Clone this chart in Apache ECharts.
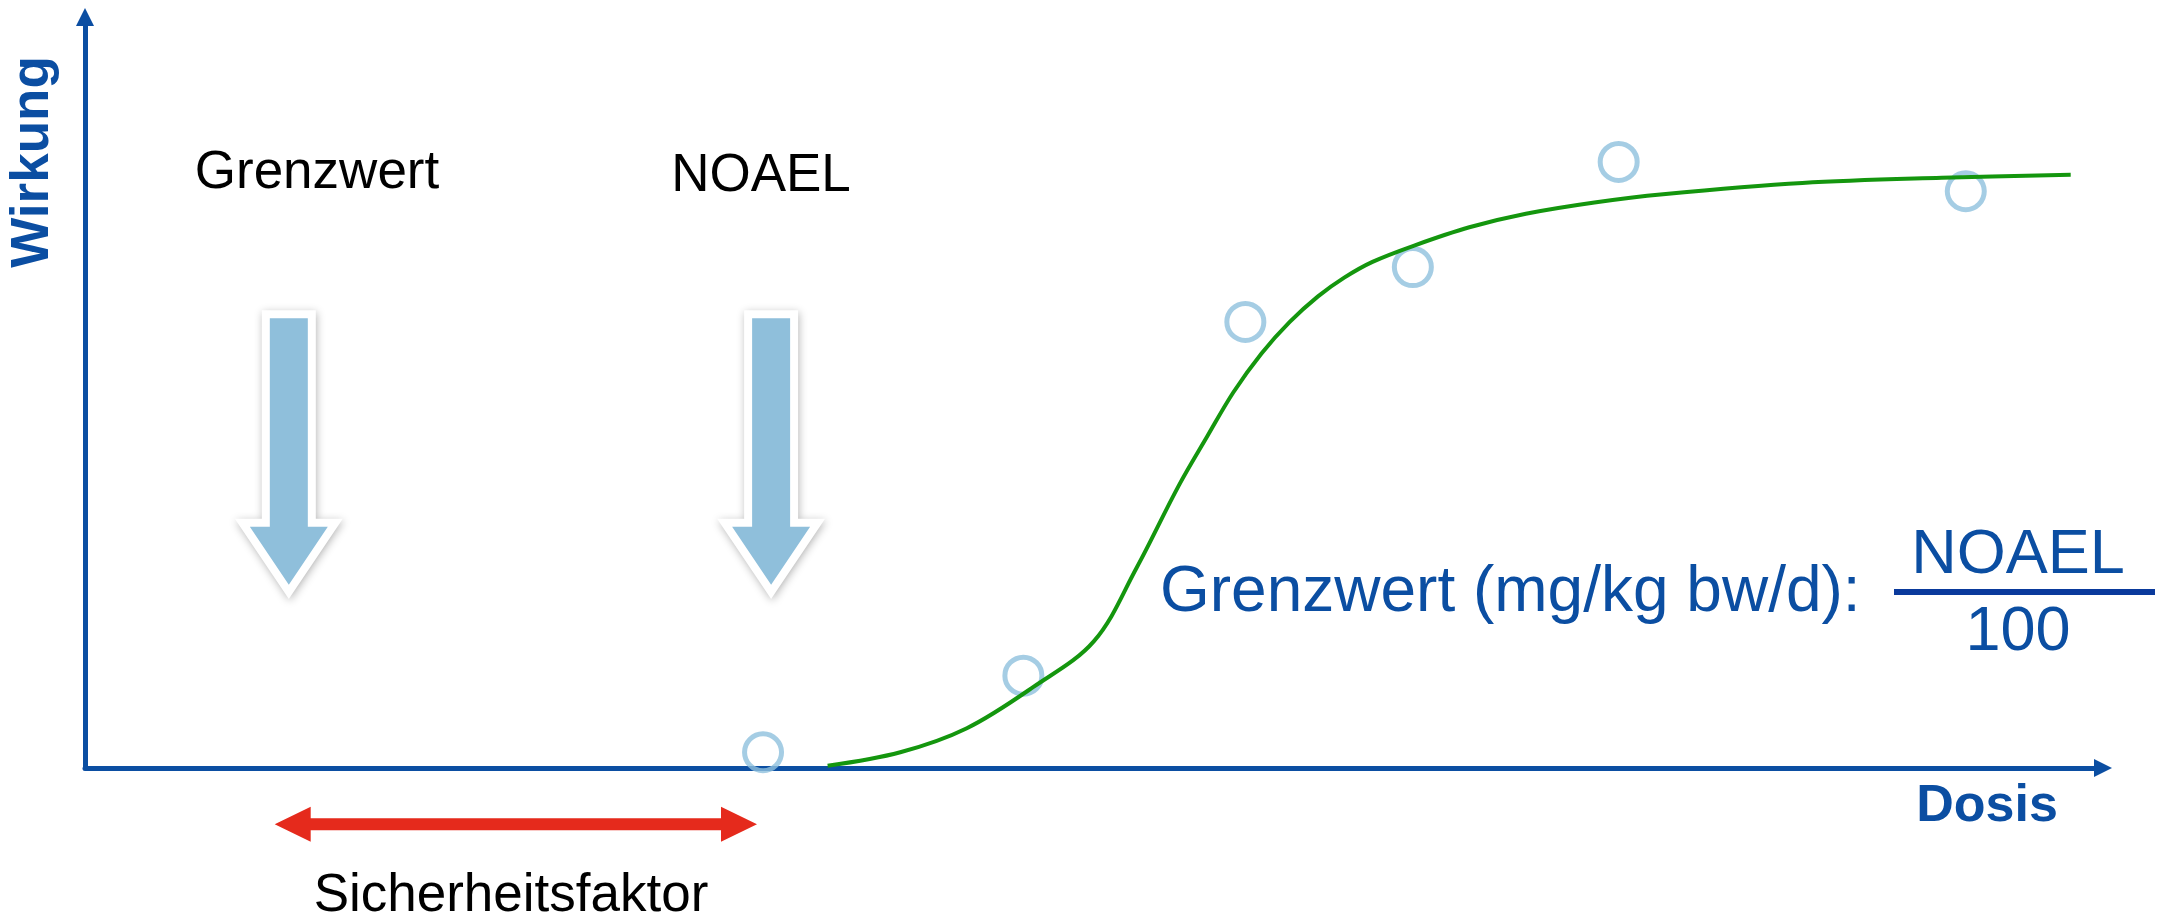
<!DOCTYPE html>
<html>
<head>
<meta charset="utf-8">
<script src="https://cdn.jsdelivr.net/npm/echarts@6/dist/echarts.min.js"></script>
<style>
html,body{margin:0;padding:0;background:#fff;}
#chart{width:2174px;height:924px;}
</style>
</head>
<body>
<div id="chart"></div>
<script>
// Dose-response curve (dose, effect) in arbitrary units
const curveDose   = [36.8, 40.4, 43.7, 47.0, 50.0, 52.1, 54.2, 55.6, 56.9, 58.3, 59.7, 61.1, 62.4, 63.8, 65.9, 68.6, 71.4, 74.8, 78.2, 85.1, 92.0, 98.4];
const curveEffect = [0.3, 2.1, 5.3, 10.8, 16.9, 26.6, 37.6, 44.1, 50.0, 55.2, 59.4, 62.8, 65.3, 67.4, 69.6, 72.0, 73.8, 75.3, 76.4, 77.9, 78.6, 79.0];
// Observed points
const obsDose   = [33.6, 46.5, 57.5, 65.8, 76.0, 93.2];
const obsEffect = [2.1, 12.3, 59.4, 66.7, 80.7, 76.8];
// Annotation arrows: [dose, top effect, tip effect]
const downArrows = [[10.1, 59.9, 24.4], [34.0, 59.9, 24.4]];
// Safety factor span: [dose from, dose to, effect level]
const safetySpan = [[9.4, 33.3, -7.5]];
// Texts
const labelGrenzwert = 'Grenzwert';
const labelNoael = 'NOAEL';
const labelSafety = 'Sicherheitsfaktor';
const labelFormula = 'Grenzwert (mg/kg bw/d):';
const fracNum = 'NOAEL';
const fracDen = '100';
const axisX = 'Dosis';
const axisY = 'Wirkung';

const BLUE = '#0b4ea2';
const FONT = "'Liberation Sans', Arial, sans-serif";

const chart = echarts.init(document.getElementById('chart'));

function blueArrow(params, api) {
  const x = api.value(0);
  const pTop = api.coord([x, api.value(1)]);
  const pTip = api.coord([x, api.value(2)]);
  const cx = pTop[0];
  const sh = 19, hh = 39, hl = 58;
  const base = pTip[1] - hl;
  const pts = [
    [cx - sh, pTop[1]], [cx + sh, pTop[1]], [cx + sh, base], [cx + hh, base],
    [cx, pTip[1]], [cx - hh, base], [cx - sh, base]
  ];
  return {
    type: 'group',
    children: [
      { type: 'polygon', shape: { points: pts },
        style: { fill: '#ffffff', stroke: '#ffffff', lineWidth: 16, lineJoin: 'miter', miterLimit: 10,
                 shadowBlur: 8, shadowColor: 'rgba(0,0,0,0.28)', shadowOffsetX: 1, shadowOffsetY: 2 } },
      { type: 'polygon', shape: { points: pts },
        style: { fill: '#8fbfdb', stroke: '#ffffff', lineWidth: 0 } }
    ]
  };
}

function redArrow(params, api) {
  const p1 = api.coord([api.value(0), api.value(2)]);
  const p2 = api.coord([api.value(1), api.value(2)]);
  const y = p1[1];
  const hl = 36, hh = 17.5, st = 6;
  const pts = [
    [p1[0], y], [p1[0] + hl, y - hh], [p1[0] + hl, y - st], [p2[0] - hl, y - st],
    [p2[0] - hl, y - hh], [p2[0], y], [p2[0] - hl, y + hh], [p2[0] - hl, y + st],
    [p1[0] + hl, y + st], [p1[0] + hl, y + hh]
  ];
  return { type: 'polygon', shape: { points: pts }, style: { fill: '#e52a1c' } };
}

function txt(text, x, y, size, color, opts) {
  return Object.assign({
    type: 'text', x: x, y: y, z: 10,
    style: { text: text, font: (opts && opts.bold ? 'bold ' : '') + size + 'px ' + FONT,
             fill: color, align: (opts && opts.align) || 'center', verticalAlign: 'middle' }
  }, opts && opts.rotation ? { rotation: opts.rotation } : {});
}

const option = {
  backgroundColor: '#ffffff',
  animation: false,
  grid: { left: 85, right: 71, top: 17, bottom: 156 },
  xAxis: {
    type: 'value', min: 0, max: 100,
    axisLine: { show: true, lineStyle: { color: BLUE, width: 5 }, symbol: ['none', 'triangle'], symbolSize: [18, 18] },
    axisTick: { show: false }, axisLabel: { show: false }, splitLine: { show: false }
  },
  yAxis: {
    type: 'value', min: 0, max: 100,
    axisLine: { show: true, lineStyle: { color: BLUE, width: 5 }, symbol: ['none', 'triangle'], symbolSize: [18, 18] },
    axisTick: { show: false }, axisLabel: { show: false }, splitLine: { show: false }
  },
  series: [
    {
      type: 'scatter', z: 2,
      data: obsDose.map((d, i) => [d, obsEffect[i]]),
      symbol: 'circle', symbolSize: 37,
      itemStyle: { color: 'rgba(255,255,255,0)', borderColor: '#8fc0dd', borderWidth: 5 }
    },
    {
      type: 'line', z: 3, smooth: 0.35, showSymbol: false, symbol: 'none',
      data: curveDose.map((d, i) => [d, curveEffect[i]]),
      lineStyle: { color: '#14960e', width: 4 }
    },
    {
      type: 'custom', z: 4, clip: false,
      data: downArrows, renderItem: blueArrow
    },
    {
      type: 'custom', z: 4, clip: false,
      data: safetySpan, renderItem: redArrow
    }
  ],
  graphic: [
    txt(axisY, 33, 162, 53, BLUE, { bold: true, rotation: Math.PI / 2 }),
    txt(axisX, 1987, 807, 52, BLUE, { bold: true }),
    txt(labelGrenzwert, 317, 173, 53, '#000000'),
    txt(labelNoael, 761, 176, 53, '#000000'),
    txt(labelSafety, 511, 896, 53, '#000000'),
    txt(labelFormula, 1160, 593, 64, BLUE, { align: 'left' }),
    txt(fracNum, 2018, 556, 63, BLUE),
    txt(fracDen, 2018, 633, 63, BLUE),
    { type: 'rect', z: 10, shape: { x: 1894, y: 589, width: 261, height: 6 }, style: { fill: '#0a3a9c' } }
  ]
};
chart.setOption(option);
</script>
</body>
</html>
